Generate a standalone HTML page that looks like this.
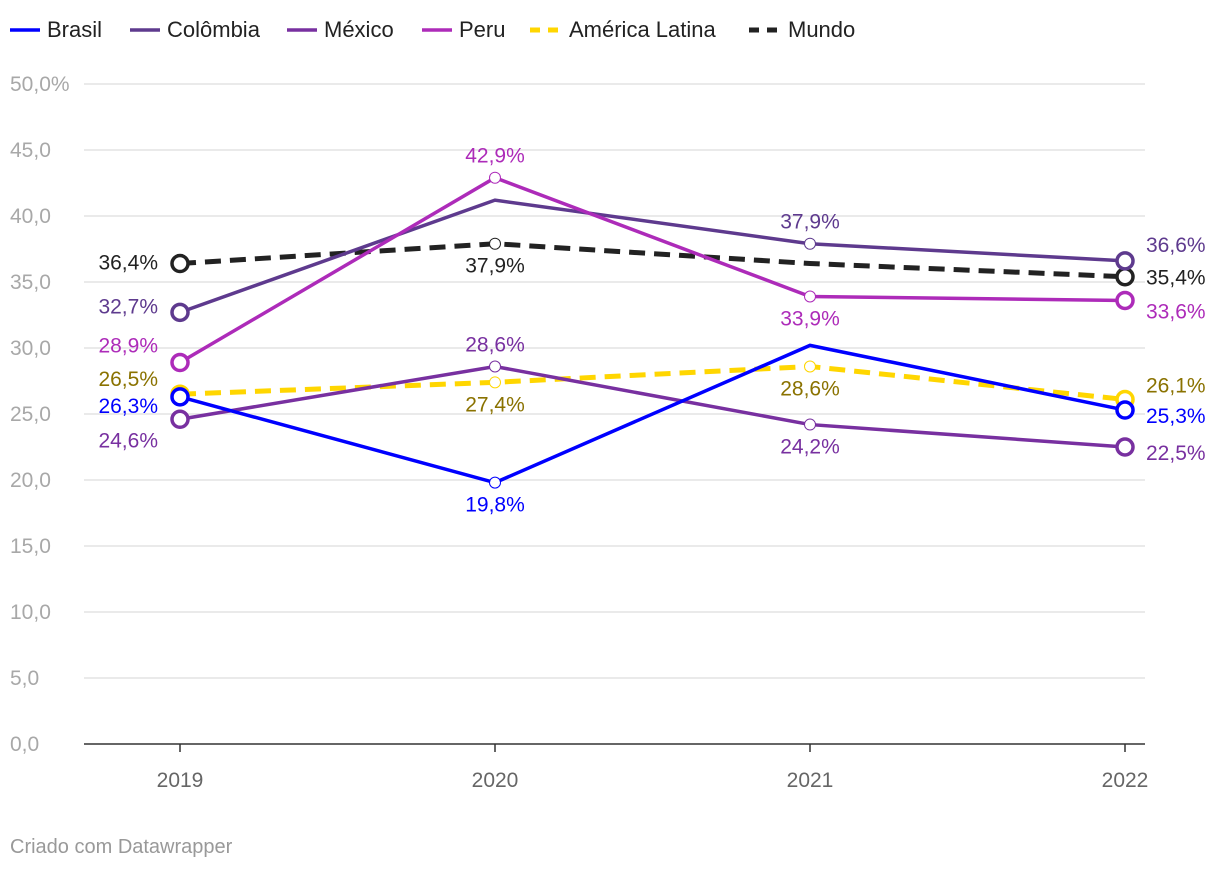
<!DOCTYPE html>
<html><head><meta charset="utf-8"><style>
body{margin:0;background:#fff;font-family:"Liberation Sans",Roboto,sans-serif;}
svg text{font-family:"Liberation Sans",sans-serif;}
</style></head><body>
<svg id="c" width="1220" height="870" xmlns="http://www.w3.org/2000/svg"></svg>
<script>
const years=["2019","2020","2021","2022"];
const seriesNames=["América Latina","Mundo","Colômbia","Peru","México","Brasil"];
const colombia=[32.7,41.2,37.9,36.6];
const peru=[28.9,42.9,33.9,33.6];
const mexico=[24.6,28.6,24.2,22.5];
const brasil=[26.3,19.8,30.2,25.3];
const americaLatina=[26.5,27.4,28.6,26.1];
const mundo=[36.4,37.9,36.4,35.4];
const yTicks=[0,5,10,15,20,25,30,35,40,45,50];
const yTickLabels=["0,0","5,0","10,0","15,0","20,0","25,0","30,0","35,0","40,0","45,0","50,0%"];
const colombiaLab=['l','','a','r'];
const peruLab=['l','a','b','r'];
const mexicoLab=['l','a','b','r'];
const brasilLab=['l','b','','r'];
const alLab=['l','b','b','r'];
const mundoLab=['l','b','','r'];
const dy2019={"Colômbia":-6,"Peru":-17,"México":21,"Brasil":9,"América Latina":-15,"Mundo":-1};
const dy2022={"Colômbia":-16,"Peru":11,"México":6,"Brasil":6,"América Latina":-14,"Mundo":1};

const svg=document.getElementById('c');
const NS="http://www.w3.org/2000/svg";
const x=i=>180+i*315;
const y=v=>744-v*13.2;
function el(t,a,p){const e=document.createElementNS(NS,t);for(const k in a)e.setAttribute(k,a[k]);(p||svg).appendChild(e);return e;}
const fmt=v=>v.toFixed(1).replace('.',',')+'%';

yTicks.forEach((t,i)=>{
  if(t>0){const g=el('line',{x1:84,x2:1145,y1:y(t),y2:y(t),stroke:'#e3e3e3','stroke-width':1.5});
  
  }
  const tx=el('text',{x:10,y:y(t)+7,fill:'#a8a8a8','font-size':21});tx.textContent=yTickLabels[i];
  
  
});
const ax=el('line',{x1:84,x2:1145,y1:744,y2:744,stroke:'#333','stroke-width':1.5});


years.forEach((yr,i)=>{
  const tk=el('line',{x1:x(i),x2:x(i),y1:744,y2:752,stroke:'#333','stroke-width':1.5});
  
  
  const t=el('text',{x:x(i),y:787,fill:'#666','font-size':21,'text-anchor':'middle'});t.textContent=yr;
  
  
});

const series=[
 {n:"América Latina",d:americaLatina,c:'#ffd600',lc:'#8a7200',lab:alLab,dash:'16 9'},
 {n:"Mundo",d:mundo,c:'#222',lc:'#222',lab:mundoLab,dash:'16 9'},
 {n:"Colômbia",d:colombia,c:'#5e3a8e',lc:'#5e3a8e',lab:colombiaLab,dash:''},
 {n:"Peru",d:peru,c:'#ad2bb9',lc:'#ad2bb9',lab:peruLab,dash:''},
 {n:"México",d:mexico,c:'#7830a0',lc:'#7830a0',lab:mexicoLab,dash:''},
 {n:"Brasil",d:brasil,c:'#0000ff',lc:'#0000ff',lab:brasilLab,dash:''}
];
series.forEach(s=>{
  const p=el('polyline',{points:s.d.map((v,i)=>x(i)+','+y(v)).join(' '),fill:'none',stroke:s.c,'stroke-width':s.dash?5:3.5,'stroke-dasharray':s.dash});
  
  
  s.d.forEach((v,i)=>{
    const end=i==0||i==3;
    if(end||s.lab[i]){
      const m=el('circle',{cx:x(i),cy:y(v),r:end?8:5.5,fill:'#fff',stroke:s.c,'stroke-width':end?3.5:1});
      
      
    }
    const L=s.lab[i];if(!L)return;
    let a={fill:s.lc,'font-size':21};
    if(L=='l'){a.x=x(i)-22;a.y=y(v)+7+dy2019[s.n];a['text-anchor']='end';}
    if(L=='r'){a.x=x(i)+21;a.y=y(v)+7+dy2022[s.n];a['text-anchor']='start';}
    if(L=='a'){a.x=x(i);a.y=y(v)-15;a['text-anchor']='middle';}
    if(L=='b'){a.x=x(i);a.y=y(v)+29;a['text-anchor']='middle';}
    const t=el('text',a);t.textContent=fmt(v);
    
    
  });
});

const legend=[["Brasil",'#0000ff','',10],["Colômbia",'#5e3a8e','',130],["México",'#7830a0','',287],["Peru",'#ad2bb9','',422],["América Latina",'#ffd600','10 8',530],["Mundo",'#222','10 8',749]];
legend.forEach(l=>{
  const ln=el('line',{x1:l[3],x2:l[3]+30,y1:30,y2:30,stroke:l[1],'stroke-width':l[2]?5:3.5,'stroke-dasharray':l[2]});
  
  
  const t=el('text',{x:l[3]+(l[2]?39:37),y:37,fill:'#222','font-size':22});t.textContent=l[0];
  
  
});
const cr=el('text',{x:10,y:853,fill:'#999','font-size':20});cr.textContent="Criado com Datawrapper";


</script>
</body></html>
